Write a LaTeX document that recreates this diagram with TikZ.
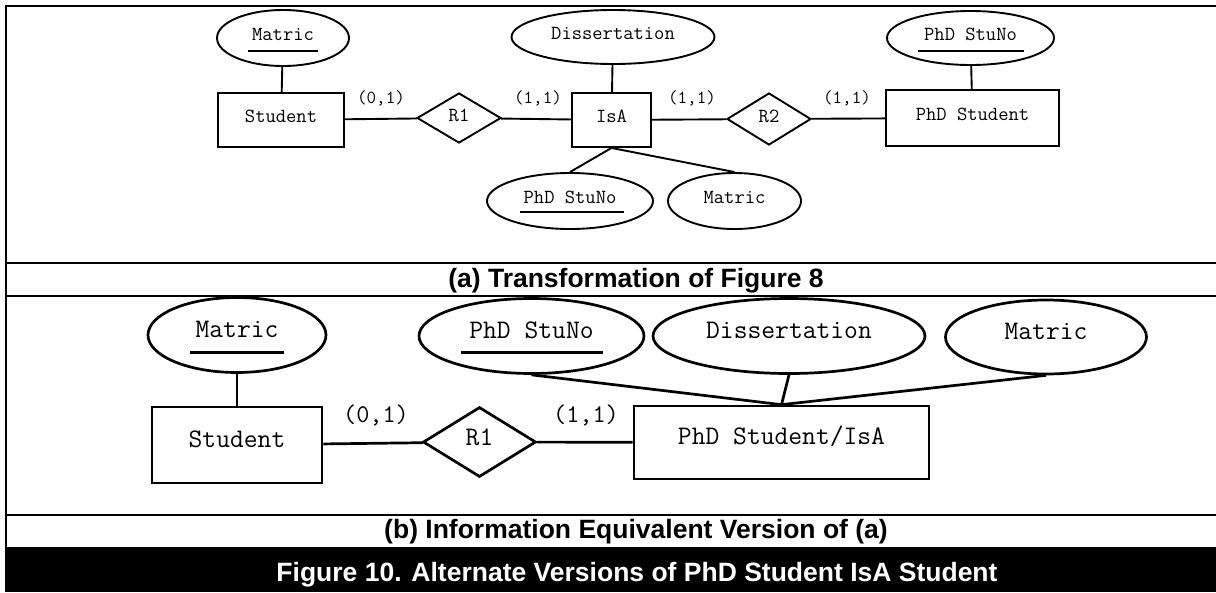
\documentclass[tikz,border=0pt]{standalone}
\usepackage{fontspec}
\newfontfamily\capfont{Liberation Sans}
\usetikzlibrary{shapes.geometric}
\tikzset{
  every node/.style={inner sep=0pt},
  ta/.style={font=\ttfamily\fontsize{20}{24}\selectfont},
  tb/.style={font=\ttfamily\fontsize{26.8}{30}\selectfont},
  ca/.style={font=\ttfamily\fontsize{18.5}{22}\selectfont, anchor=base},
  cb/.style={font=\ttfamily\fontsize{25.5}{28}\selectfont, anchor=base},
  ent/.style={draw, rectangle, text height=10pt, text depth=6pt},
  attr/.style={draw, ellipse, text height=10pt, text depth=6pt},
  rel/.style={draw, diamond, text height=10pt, text depth=4pt},
  la/.style={line width=1.9pt},
  lb/.style={line width=2.7pt},
  frm/.style={line width=2pt},
  captxt/.style={font=\capfont\bfseries\fontsize{26.5}{30}\selectfont, anchor=base},
}
\begin{document}
\begin{tikzpicture}[x=1pt,y=-1pt]
\useasboundingbox (0,0) rectangle (1216,592);
% frame
\fill (5,547) rectangle (1216,592);
\draw[frm] (5,6) -- (1216,6);
\draw[frm] (6,5) -- (6,547);
\draw[frm] (6,263) -- (1216,263);
\draw[frm] (6,296) -- (1216,296);
\draw[frm] (6,515) -- (1216,515);

% ---------- (a) ----------
\node[ent,la,ta,minimum width=126pt,minimum height=54pt] (stuA) at (281,120) {Student};
\node[attr,la,ta,minimum width=132pt,minimum height=56pt] (matA) at (283,38) {Matric};
\node[rel,la,ta,minimum width=84pt,minimum height=50pt] (r1A) at (459,118) {R1};
\node[ent,la,ta,minimum width=79pt,minimum height=54pt] (isa) at (611.5,120) {IsA};
\node[attr,la,ta,minimum width=203pt,minimum height=54pt] (disA) at (613,37) {Dissertation};
\node[rel,la,ta,minimum width=84pt,minimum height=52pt] (r2A) at (769,119) {R2};
\node[ent,la,ta,minimum width=173pt,minimum height=56pt] (phdA) at (972.5,118) {PhD Student};
\node[attr,la,ta,minimum width=167pt,minimum height=54pt] (snoA) at (970.5,38) {PhD StuNo};
\node[attr,la,ta,minimum width=166pt,minimum height=56pt] (snoB) at (570,201) {PhD StuNo};
\node[attr,la,ta,minimum width=133pt,minimum height=56pt] (matB) at (734.5,201) {Matric};

\draw[line width=2pt] ([xshift=-35pt,yshift=-13pt]matA.center) -- ([xshift=35pt,yshift=-13pt]matA.center);
\draw[line width=2pt] ([xshift=-53pt,yshift=-13pt]snoA.center) -- ([xshift=53pt,yshift=-13pt]snoA.center);
\draw[line width=2pt] ([xshift=-50pt,yshift=-11pt]snoB.center) -- ([xshift=54pt,yshift=-11pt]snoB.center);

\draw[la] (matA) -- (stuA);
\draw[la] (stuA) -- (r1A);
\draw[la] (r1A) -- (isa);
\draw[la] (disA) -- (isa);
\draw[la] (isa) -- (r2A);
\draw[la] (r2A) -- (phdA);
\draw[la] (snoA) -- (phdA);
\draw[la] (isa.south) -- (snoB.north);
\draw[la] (isa.south) -- (matB.north);

\node[ca] (c01a) at (381,103) {(0,1)};
\node[ca] (c11a) at (538,103) {(1,1)};
\node[ca] (c11b) at (692,103) {(1,1)};
\node[ca] (c11c) at (847,103) {(1,1)};

\node[captxt] (capa) at (636,287) {(a) Transformation of Figure 8};

% ---------- (b) ----------
\node[ent,lb,tb,minimum width=170pt,minimum height=76pt] (stuC) at (237,445) {Student};
\node[attr,lb,tb,minimum width=178pt,minimum height=75pt] (matC) at (237,335) {Matric};
\node[rel,lb,tb,minimum width=113pt,minimum height=70pt] (r1C) at (479.5,442) {R1};
\node[ent,lb,tb,minimum width=295pt,minimum height=73pt] (psi) at (781.5,442.5) {PhD Student/IsA};
\node[attr,lb,tb,minimum width=225pt,minimum height=75pt] (snoC) at (531.5,336) {PhD StuNo};
\node[attr,lb,tb,minimum width=272pt,minimum height=75pt] (disC) at (789,336) {Dissertation};
\node[attr,lb,tb,minimum width=201pt,minimum height=74pt] (matD) at (1046,337) {Matric};

\draw[line width=3pt] ([xshift=-47pt,yshift=-17pt]matC.center) -- ([xshift=47pt,yshift=-17pt]matC.center);
\draw[line width=3pt] ([xshift=-70.5pt,yshift=-16pt]snoC.center) -- ([xshift=71.5pt,yshift=-16pt]snoC.center);

\draw[lb] (matC) -- (stuC);
\draw[lb] (stuC) -- (r1C);
\draw[lb] (r1C) -- (psi);
\draw[lb] (psi.north) -- (snoC.south);
\draw[lb] (psi.north) -- (disC.south);
\draw[lb] (psi.north) -- (matD.south);

\node[cb] (c01b) at (376,422) {(0,1)};
\node[cb] (c11d) at (586,422) {(1,1)};

\node[captxt] (capb) at (636,538) {(b) Information Equivalent Version of (a)};
\node[captxt,text=white] (title) at (637,581) {Figure 10. Alternate Versions of PhD Student IsA Student};
\end{tikzpicture}
\end{document}
